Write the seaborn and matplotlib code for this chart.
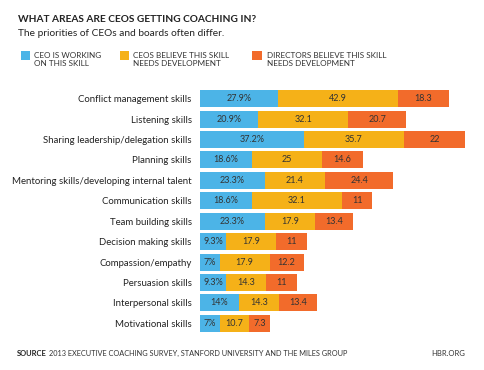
import matplotlib
matplotlib.use("Agg")
import matplotlib.pyplot as plt
import seaborn as sns
import pandas as pd
import numpy as np
from matplotlib.patches import Rectangle

skills = ["Conflict management skills", "Listening skills", "Sharing leadership/delegation skills",
          "Planning skills", "Mentoring skills/developing internal talent", "Communication skills",
          "Team building skills", "Decision making skills", "Compassion/empathy",
          "Persuasion skills", "Interpersonal skills", "Motivational skills"]
ceo_working = [27.9, 20.9, 37.2, 18.6, 23.3, 18.6, 23.3, 9.3, 7, 9.3, 14, 7]
ceo_believe = [42.9, 32.1, 35.7, 25, 21.4, 32.1, 17.9, 17.9, 17.9, 14.3, 14.3, 10.7]
dir_believe = [18.3, 20.7, 22, 14.6, 24.4, 11, 13.4, 11, 12.2, 11, 13.4, 7.3]
ceo_labels = ["27.9%", "20.9%", "37.2%", "18.6%", "23.3%", "18.6%", "23.3%", "9.3%", "7%", "9.3%", "14%", "7%"]
ceo_bel_labels = ["42.9", "32.1", "35.7", "25", "21.4", "32.1", "17.9", "17.9", "17.9", "14.3", "14.3", "10.7"]
dir_labels = ["18.3", "20.7", "22", "14.6", "24.4", "11", "13.4", "11", "12.2", "11", "13.4", "7.3"]
legend_labels = ["CEO IS WORKING\nON THIS SKILL", "CEOS BELIEVE THIS SKILL\nNEEDS DEVELOPMENT",
                 "DIRECTORS BELIEVE THIS SKILL\nNEEDS DEVELOPMENT"]

BLUE = "#4cb4e7"
YELLOW = "#f5b118"
ORANGE = "#f26b2b"
TXT = "#333333"

sns.set_style("white")
plt.rcParams['font.family'] = ['Lato', 'DejaVu Sans']

df = pd.DataFrame({"skill": skills, "a": ceo_working, "b": ceo_believe, "c": dir_believe})
df["ab"] = df["a"] + df["b"]
df["abc"] = df["ab"] + df["c"]

fig = plt.figure(figsize=(4.85, 3.70), dpi=100)
ax = fig.add_axes([200/485, 1 - 333.5/370, 270/485, (333.5 - 88.5)/370])

w = 0.83
for col, color in [("abc", ORANGE), ("ab", YELLOW), ("a", BLUE)]:
    sns.barplot(data=df, x=col, y="skill", color=color, ax=ax, width=w,
                saturation=1, linewidth=0, orient="h")

ax.set_xlim(0, 270/2.795)
ax.set_xlabel("")
ax.set_ylabel("")
ax.set_xticks([])
for s in ax.spines.values():
    s.set_visible(False)
ax.tick_params(axis="y", length=0, pad=6, labelsize=6.9, labelcolor="#222222")

for i in range(len(skills)):
    a, b, c = ceo_working[i], ceo_believe[i], dir_believe[i]
    ax.text(a/2, i, ceo_labels[i], ha="center", va="center", fontsize=6.5, color=TXT)
    ax.text(a + b/2, i, ceo_bel_labels[i], ha="center", va="center", fontsize=6.5, color=TXT)
    ax.text(a + b + c/2, i, dir_labels[i], ha="center", va="center", fontsize=6.5, color=TXT)

# Title & subtitle
fig.text(18/485, 1 - 20/370, "WHAT AREAS ARE CEOS GETTING COACHING IN?", fontsize=7.3,
         fontweight="bold", color="#222222", va="center", ha="left")
fig.text(18/485, 1 - 33/370, "The priorities of CEOs and boards often differ.", fontsize=7.3,
         color="#222222", va="center", ha="left")

# Legend
for (sx, tx), color, lab in zip([(21, 34), (120, 133), (252, 267)], [BLUE, YELLOW, ORANGE], legend_labels):
    fig.patches.append(Rectangle((sx/485, 1 - 60/370), 9.5/485, 9.5/370, transform=fig.transFigure,
                                 facecolor=color, edgecolor="none"))
    fig.text(tx/485, 1 - 59.5/370, lab, fontsize=5.9, color="#333333", va="center", ha="left",
             linespacing=1.05)

# Source
fig.text(17/485, 1 - 353/370, "SOURCE", fontsize=5.5, fontweight="bold", color="#222222",
         va="center", ha="left")
fig.text(49.5/485, 1 - 353/370, "2013 EXECUTIVE COACHING SURVEY, STANFORD UNIVERSITY AND THE MILES GROUP",
         fontsize=5.3, color="#333333", va="center", ha="left")
fig.text(465/485, 1 - 353/370, "HBR.ORG", fontsize=5.5, color="#333333", va="center", ha="right")

fig.savefig("out.png", dpi=100, facecolor="white")
